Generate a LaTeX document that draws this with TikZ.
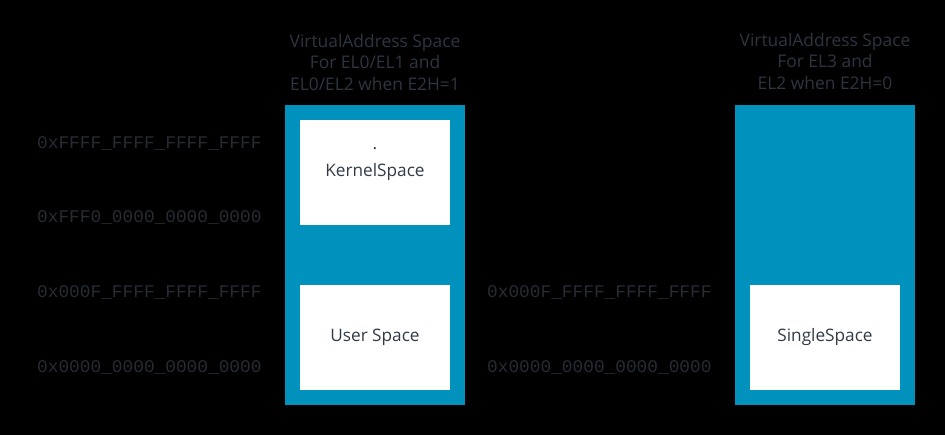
\documentclass[tikz,border=0pt]{standalone}
\usepackage{fontspec}
\setmainfont{Open Sans}
\newfontfamily\addrfont{Liberation Mono}
\definecolor{vablue}{HTML}{0091BD}
\definecolor{titlegray}{HTML}{2E3540}
\definecolor{addrgray}{HTML}{272C33}
\definecolor{boxtext}{HTML}{333B47}
\begin{document}
\begin{tikzpicture}[x=1pt,y=-1pt,
  bluebox/.style={fill=vablue, draw=none, inner sep=0pt, outer sep=0pt, anchor=north west, minimum width=180pt, minimum height=300pt},
  whitebox/.style={fill=white, draw=none, inner sep=0pt, outer sep=0pt, anchor=north west, minimum width=150pt, minimum height=105pt, text=boxtext, font=\fontsize{17.2}{20}\selectfont},
  titletext/.style={text=titlegray, align=center, font=\fontsize{17.4}{21.5}\selectfont, inner sep=0pt},
  addr/.style={text=addrgray, font=\addrfont\fontsize{17.8}{20}\selectfont, inner sep=0pt, anchor=west}
]
\fill[black] (0,0) rectangle (945,435);
\useasboundingbox (0,0) rectangle (945,435);
% titles
\node[titletext] (ltitle) at (375,62) {VirtualAddress Space\\For EL0/EL1 and\\EL0/EL2 when E2H=1};
\node[titletext] (rtitle) at (825,61) {VirtualAddress Space\\For EL3 and\\EL2 when E2H=0};
% left column
\node[bluebox] (lspace) at (285,105) {};
\node[whitebox] (kernel) at (300,120) {KernelSpace};
\node[text=boxtext, inner sep=0pt, anchor=base, font=\fontsize{17.2}{20}\selectfont] (kdot) at (375,150) {.};
\node[whitebox] (user) at (300,285) {User Space};
% right column
\node[bluebox] (rspace) at (735,105) {};
\node[whitebox] (single) at (750,285) {SingleSpace};
% addresses
\node[addr] (a1) at (37,144) {0xFFFF\_FFFF\_FFFF\_FFFF};
\node[addr] (a2) at (37,218) {0xFFF0\_0000\_0000\_0000};
\node[addr] (a3) at (37,293) {0x000F\_FFFF\_FFFF\_FFFF};
\node[addr] (a4) at (37,368) {0x0000\_0000\_0000\_0000};
\node[addr] (b3) at (487,293) {0x000F\_FFFF\_FFFF\_FFFF};
\node[addr] (b4) at (487,368) {0x0000\_0000\_0000\_0000};
\end{tikzpicture}
\end{document}
